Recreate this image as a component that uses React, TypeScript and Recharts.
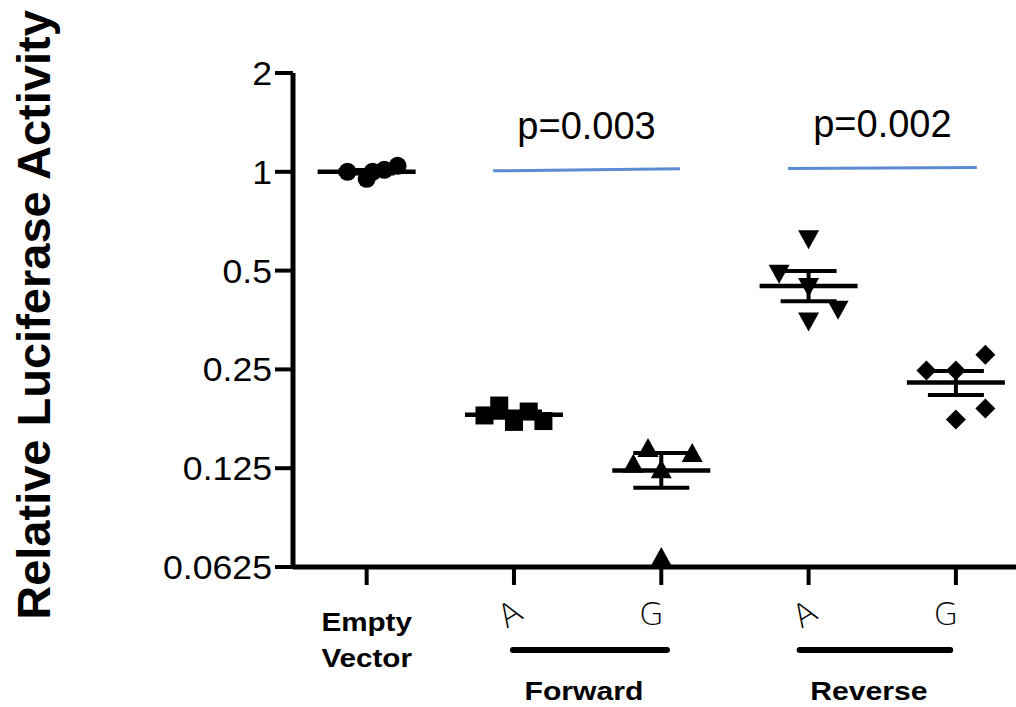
import React from 'react';
import { ComposedChart, Scatter, XAxis, YAxis, ReferenceLine, ErrorBar } from 'recharts';

// ---------- data ----------
const categories = ['Empty Vector', 'A', 'G', 'A', 'G'];
const categoryIndex = [0, 1, 2, 3, 4];
const yTicks = [0.0625, 0.125, 0.25, 0.5, 1, 2];
const yTickLabels = ['0.0625', '0.125', '0.25', '0.5', '1', '2'];
const yLabel = 'Relative Luciferase Activity';

// individual replicates (x = category index + horizontal jitter)
const emptyVectorX = [-0.13, 0, 0.04, 0.12, 0.21];
const emptyVectorY = [1.0, 0.952, 1.0, 1.014, 1.043];
const forwardAX = [0.8, 0.9, 1.0, 1.1, 1.2];
const forwardAY = [0.181, 0.194, 0.173, 0.186, 0.174];
const forwardGX = [1.91, 1.81, 2.21, 2.0, 2.0];
const forwardGY = [0.144, 0.129, 0.139, 0.124, 0.067];
const reverseAX = [3.0, 2.8, 3.0, 3.2, 3.0];
const reverseAY = [0.623, 0.489, 0.446, 0.38, 0.35];
const reverseGX = [4.2, 3.8, 4.0, 4.2, 4.0];
const reverseGY = [0.277, 0.248, 0.248, 0.19, 0.176];

// group mean and SEM bounds
const groupMean = [1.0, 0.182, 0.123, 0.449, 0.228];
const groupUpper = [1.012, 0.186, 0.139, 0.499, 0.247];
const groupLower = [0.988, 0.178, 0.109, 0.403, 0.209];

// significance bars
const sigLabels = ['p=0.003', 'p=0.002'];
const sigStart = [0.858, 2.86];
const sigEnd = [2.127, 4.142];
const sigLevelStart = [1.007, 1.023];
const sigLevelEnd = [1.021, 1.03];

// groups under the axis
const groupLabels = ['Forward', 'Reverse'];
const groupStart = [0.973, 2.919];
const groupEnd = [2.059, 3.982];

// ---------- styling ----------
const FONT = '"Liberation Sans", Arial, Helvetica, sans-serif';
const BLUE = '#5b8bd1';

const toPts = (xs: number[], ys: number[]) => xs.map((x, i) => ({ x, y: ys[i] }));
const meanData = categoryIndex.map((i) => ({
  x: i,
  y: groupMean[i],
  err: [groupMean[i] - groupLower[i], groupUpper[i] - groupMean[i]],
}));

const SText = ({ x, y, sx = 1, anchor = 'middle', size, weight = 'normal', children }: any) => (
  <text
    transform={`translate(${x},${y}) scale(${sx},1)`}
    textAnchor={anchor}
    fontSize={size}
    fontWeight={weight}
    fontFamily={FONT}
    fill="#000"
  >
    {children}
  </text>
);

const CircleShape = (p: any) => <circle cx={p.cx} cy={p.cy} r={9} fill="#000" />;
const SquareShape = (p: any) => <rect x={p.cx - 9} y={p.cy - 9} width={18} height={18} fill="#000" />;
const TriUpShape = (p: any) => (
  <path d={`M${p.cx},${p.cy - 10} L${p.cx + 10.5},${p.cy + 9} L${p.cx - 10.5},${p.cy + 9} Z`} fill="#000" />
);
const TriDownShape = (p: any) => (
  <path d={`M${p.cx - 10.5},${p.cy - 9} L${p.cx + 10.5},${p.cy - 9} L${p.cx},${p.cy + 10} Z`} fill="#000" />
);
const DiamondShape = (p: any) => (
  <path d={`M${p.cx},${p.cy - 10} L${p.cx + 10},${p.cy} L${p.cx},${p.cy + 10} L${p.cx - 10},${p.cy} Z`} fill="#000" />
);
const MeanShape = (p: any) => (
  <line x1={p.cx - 49} x2={p.cx + 49} y1={p.cy} y2={p.cy} stroke="#000" strokeWidth={4.5} />
);

const YTick = (props: any) => {
  const idx = yTicks.indexOf(props.payload.value);
  return (
    <SText x={props.x - 1} y={props.y + 12} sx={1.08} anchor="end" size={33}>
      {yTickLabels[idx]}
    </SText>
  );
};

const XTick = (props: any) => {
  const i = props.payload.value as number;
  const label = categories[i];
  const { x, y } = props;
  if (label.includes(' ')) {
    const [l1, l2] = label.split(' ');
    return (
      <g>
        <SText x={x} y={y + 44} sx={1.14} size={26} weight="bold">{l1}</SText>
        <SText x={x} y={y + 80} sx={1.14} size={26} weight="bold">{l2}</SText>
      </g>
    );
  }
  const isA = label === 'A';
  return (
    <text
      transform={`translate(${x + (isA ? -4 : -10)},${y + 27}) rotate(${isA ? -32 : 0})`}
      textAnchor="middle"
      dominantBaseline="central"
      fontSize={32}
      fontFamily='"DejaVu Sans", sans-serif'
      fontWeight={200}
      fill="#000"
    >
      {label}
    </text>
  );
};

export default function App() {
  return (
    <div style={{ position: 'absolute', left: 0, top: 0, width: 1016, height: 707, background: '#fff' }}>
      <ComposedChart
        width={1016}
        height={707}
        margin={{ top: 73, right: 0, bottom: 110, left: 0 }}
        style={{ overflow: 'visible' }}
      >
        <XAxis
          type="number"
          dataKey="x"
          domain={[-0.5, 4.408]}
          allowDataOverflow
          ticks={categoryIndex}
          interval={0}
          height={30}
          tickSize={18}
          tickMargin={2}
          axisLine={{ stroke: '#000', strokeWidth: 5 }}
          tickLine={{ stroke: '#000', strokeWidth: 4 }}
          tick={<XTick />}
        />
        <YAxis
          type="number"
          dataKey="y"
          scale="log"
          domain={[0.0625, 2]}
          allowDataOverflow
          ticks={yTicks}
          interval={0}
          width={293}
          tickSize={18}
          tickMargin={2}
          axisLine={{ stroke: '#000', strokeWidth: 5 }}
          tickLine={{ stroke: '#000', strokeWidth: 4 }}
          tick={<YTick />}
          label={{
            content: () => (
              <text
                transform="translate(50,315) rotate(-90)"
                textAnchor="middle"
                fontSize={47}
                fontWeight="bold"
                fontFamily={FONT}
                fill="#000"
              >
                {yLabel}
              </text>
            ),
          }}
        />
        {sigLabels.map((lab, i) => (
          <ReferenceLine
            key={'sig' + i}
            segment={[
              { x: sigStart[i], y: sigLevelStart[i] },
              { x: sigEnd[i], y: sigLevelEnd[i] },
            ]}
            ifOverflow="visible"
            shape={(p: any) => (
              <g>
                <line x1={p.x1} y1={p.y1} x2={p.x2} y2={p.y2} stroke={BLUE} strokeWidth={3} />
                <SText x={(p.x1 + p.x2) / 2} y={(p.y1 + p.y2) / 2 - 31} size={38}>
                  {lab}
                </SText>
              </g>
            )}
          />
        ))}
        {groupLabels.map((lab, i) => (
          <ReferenceLine
            key={'grp' + i}
            segment={[
              { x: groupStart[i], y: 0.0625 },
              { x: groupEnd[i], y: 0.0625 },
            ]}
            ifOverflow="visible"
            shape={(p: any) => (
              <g>
                <line
                  x1={p.x1 + 3}
                  y1={p.y1 + 83}
                  x2={p.x2 - 3}
                  y2={p.y1 + 83}
                  stroke="#000"
                  strokeWidth={6}
                  strokeLinecap="round"
                />
                <SText x={(p.x1 + p.x2) / 2 - 6} y={p.y1 + 133} sx={1.16} size={26} weight="bold">
                  {lab}
                </SText>
              </g>
            )}
          />
        ))}
        <Scatter data={toPts(emptyVectorX, emptyVectorY)} shape={CircleShape} isAnimationActive={false} />
        <Scatter data={toPts(forwardAX, forwardAY)} shape={SquareShape} isAnimationActive={false} />
        <Scatter data={toPts(forwardGX, forwardGY)} shape={TriUpShape} isAnimationActive={false} />
        <Scatter data={toPts(reverseAX, reverseAY)} shape={TriDownShape} isAnimationActive={false} />
        <Scatter data={toPts(reverseGX, reverseGY)} shape={DiamondShape} isAnimationActive={false} />
        <Scatter data={meanData} shape={MeanShape} isAnimationActive={false}>
          <ErrorBar dataKey="err" direction="y" width={28} strokeWidth={4} stroke="#000" />
        </Scatter>
      </ComposedChart>
    </div>
  );
}
